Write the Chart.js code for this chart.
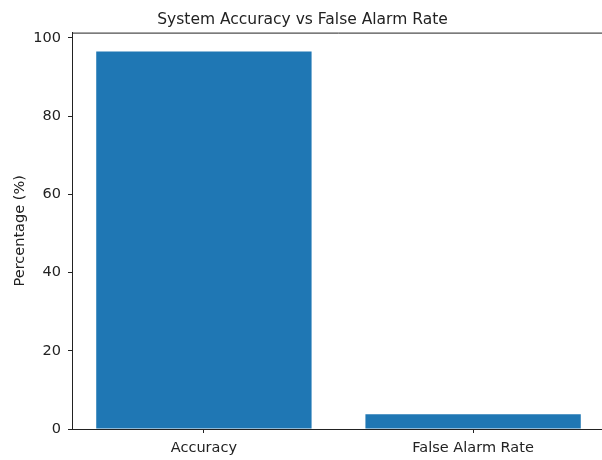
<!DOCTYPE html>
<html>
<head>
<meta charset="utf-8">
<script src="https://cdn.jsdelivr.net/npm/chart.js@4.4.1/dist/chart.umd.min.js"></script>
<style>
  html, body { margin: 0; padding: 0; background: #fff; overflow: hidden; }
  canvas { display: block; }
</style>
</head>
<body>
<canvas id="myChart" width="610" height="460"></canvas>
<script>
// chart data
var categories = ['Accuracy', 'False Alarm Rate'];
var percentages = [96.5, 3.8];
var yTicks = [0, 20, 40, 60, 80, 100];

var barData = categories.map(function(c, i) { return { x: i, y: percentages[i] }; });

// draws the top and right spines like matplotlib
var framePlugin = {
    id: 'frame',
    afterDraw: function(chart) {
        var a = chart.chartArea, ctx = chart.ctx;
        ctx.save();
        ctx.strokeStyle = '#222';
        ctx.lineWidth = 1;
        ctx.beginPath();
        ctx.moveTo(a.left, a.top + 0.5);
        ctx.lineTo(a.right, a.top + 0.5);
        ctx.lineTo(a.right, a.bottom);
        ctx.stroke();
        ctx.restore();
    }
};

Chart.defaults.font.family = '"DejaVu Sans", sans-serif';
Chart.defaults.color = '#222';

var myChart = document.getElementById('myChart').getContext('2d');
var barChart = new Chart(myChart, {
    type: 'bar',
    data: {
        datasets: [{
            label: 'Percentage',
            data: barData,
            backgroundColor: '#1f77b4',
            borderWidth: 0,
            barPercentage: 0.8,
            categoryPercentage: 1.0
        }]
    },
    options: {
        responsive: false,
        animation: false,
        layout: { padding: { left: 0, right: 5, top: 0, bottom: 0 } },
        plugins: {
            legend: { display: false },
            tooltip: { enabled: false },
            title: {
                display: true,
                text: 'System Accuracy vs False Alarm Rate',
                color: '#222',
                font: { size: 15.5, weight: 'normal' },
                padding: { top: 11, bottom: 3 }
            }
        },
        scales: {
            x: {
                type: 'linear',
                min: -0.49,
                max: 1.49,
                offset: false,
                afterBuildTicks: function(scale) {
                    scale.ticks = categories.map(function(c, i) { return { value: i }; });
                },
                afterFit: function(scale) { scale.height = 31; },
                ticks: {
                    font: { size: 14.5 },
                    padding: 7,
                    maxRotation: 0,
                    autoSkip: false,
                    callback: function(v) { return categories[v]; }
                },
                grid: { display: true, offset: false, drawOnChartArea: false, tickLength: 4, color: '#222' },
                border: { display: true, color: '#222', width: 1 }
            },
            y: {
                min: 0,
                max: 101.325,
                afterBuildTicks: function(scale) {
                    scale.ticks = yTicks.map(function(v) { return { value: v }; });
                },
                afterFit: function(scale) { scale.width = 72; },
                ticks: { font: { size: 14.5 }, padding: 7 },
                grid: { display: true, drawOnChartArea: false, tickLength: 4, color: '#222' },
                border: { display: true, color: '#222', width: 1 },
                title: {
                    display: true,
                    text: 'Percentage (%)',
                    font: { size: 14.5 },
                    padding: { top: 12, bottom: 0 }
                }
            }
        }
    },
    plugins: [framePlugin]
});
</script>
</body>
</html>
